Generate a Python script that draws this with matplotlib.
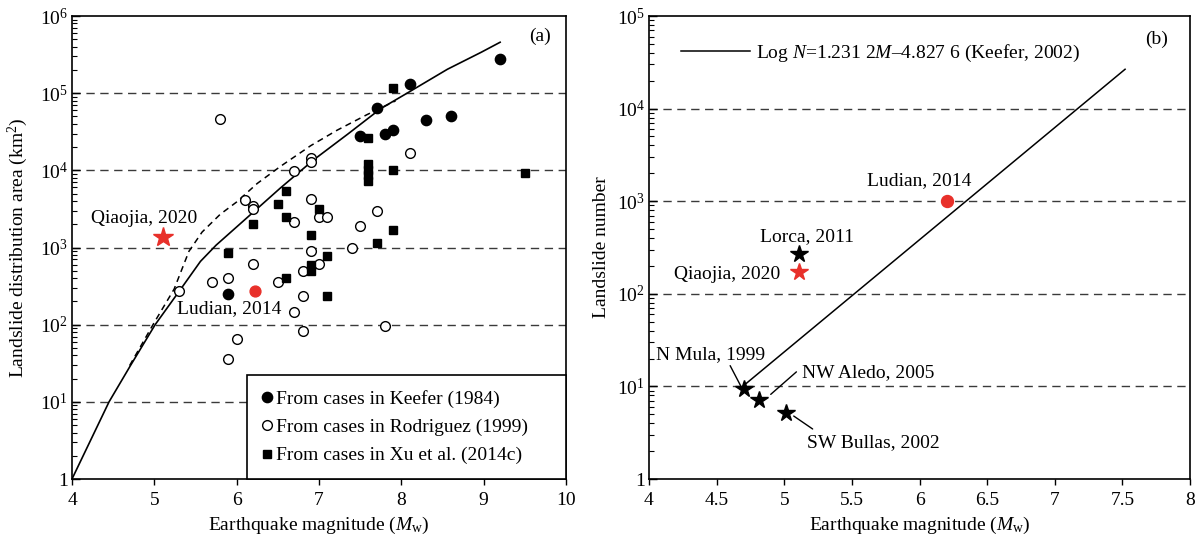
import numpy as np
import matplotlib.pyplot as plt
from matplotlib.ticker import FixedLocator, FixedFormatter, LogLocator, NullFormatter

plt.rcParams['font.family'] = ['Liberation Serif', 'DejaVu Serif']
plt.rcParams['mathtext.fontset'] = 'custom'
plt.rcParams['mathtext.rm'] = 'Liberation Serif'
plt.rcParams['mathtext.it'] = 'Liberation Serif:italic'
plt.rcParams['font.size'] = 14

RED = "#e8302a"
GRID = "#3a3a3a"

# ---- panel (a): landslide distribution area vs magnitude ----
keefer_m = [9.2, 8.1, 7.7, 8.3, 8.6, 7.5, 7.8, 7.9, 5.9]
keefer_a = [2.8e5, 1.3e5, 6.5e4, 4.5e4, 5.0e4, 2.8e4, 3.0e4, 3.3e4, 250]

rod_m = [5.8, 8.1, 6.9, 6.9, 6.7, 6.1, 6.2, 6.2, 6.9, 6.7, 7.0, 7.1, 7.7, 7.5,
         7.4, 6.9, 6.2, 5.9, 5.7, 5.3, 6.5, 6.8, 7.0, 6.8, 6.7, 6.8, 7.8, 6.0, 5.9]
rod_a = [4.6e4, 1.7e4, 1.45e4, 1.3e4, 9.8e3, 4.1e3, 3.5e3, 3.2e3, 4.2e3, 2.15e3,
         2.45e3, 2.45e3, 3.0e3, 1.9e3, 980, 910, 610, 405, 360, 270, 360, 490,
         610, 237, 145, 83, 97, 65, 36]

xu_m = [7.9, 7.6, 7.6, 7.6, 7.6, 7.6, 7.9, 9.5, 6.6, 6.5, 6.6, 6.2, 7.0, 6.9,
        7.9, 7.7, 5.9, 7.1, 6.9, 6.9, 6.6, 7.1]
xu_a = [1.15e5, 2.65e4, 1.2e4, 1.0e4, 8.7e3, 7.3e3, 1.0e4, 9.3e3, 5.4e3, 3.65e3,
        2.45e3, 2.0e3, 3.15e3, 1.45e3, 1.7e3, 1.15e3, 840, 780, 590, 500, 400, 235]

# upper-bound curves (log10 area)
solid_m = [4.0, 4.45, 4.71, 5.01, 5.32, 5.56, 5.75, 6.13, 6.53, 6.94, 7.35, 7.75,
           8.07, 8.56, 8.97, 9.2]
solid_log = [0.0, 1.0, 1.47, 2.0, 2.46, 2.82, 3.03, 3.39, 3.77, 4.14, 4.47, 4.8,
             5.0, 5.31, 5.53, 5.66]
dash_m = [4.70, 5.0, 5.24, 5.42, 5.58, 5.8, 6.0, 6.25, 6.53, 6.9, 7.22, 7.58, 7.93]
dash_log = [1.47, 2.03, 2.46, 2.95, 3.2, 3.43, 3.59, 3.83, 4.05, 4.32, 4.52, 4.72, 4.9]

qiaojia_a = (5.1, 1370)
ludian_a = (6.22, 275)

# ---- panel (b): landslide number vs magnitude ----
spain_names = ["Lorca, 2011", "N Mula, 1999", "NW Aledo, 2005", "SW Bullas, 2002"]
spain_m = [5.11, 4.7, 4.81, 5.01]
spain_n = [266, 9.3, 7.1, 5.2]
qiaojia_b = (5.11, 170)
ludian_b = (6.2, 1000)
keefer_line_m = [4.71, 7.52]
keefer_line_n = [10.5, 26600]


def style_axes(ax):
    for s in ax.spines.values():
        s.set_linewidth(1.2)
        s.set_color("black")
    ax.tick_params(axis="y", which="both", direction="in", left=True, right=False,
                   pad=3, labelsize=14)
    ax.tick_params(axis="y", which="major", length=6, width=1)
    ax.tick_params(axis="y", which="minor", length=3.5, width=0.8)
    ax.tick_params(axis="x", which="major", direction="out", length=4.5, width=1,
                   pad=5, labelsize=14)
    ax.tick_params(axis="x", which="minor", bottom=False)
    ax.yaxis.set_minor_locator(LogLocator(base=10, subs=np.arange(2, 10)))
    ax.yaxis.set_minor_formatter(NullFormatter())


fig = plt.figure(figsize=(11.95, 5.42), dpi=100)
ax1 = fig.add_axes([72 / 1195, 63 / 542, 494 / 1195, 463 / 542])
ax2 = fig.add_axes([649 / 1195, 63 / 542, 541 / 1195, 463 / 542])

# ---------- (a)
ax1.set_yscale("log")
ax1.set_xlim(4, 10)
ax1.set_ylim(1, 1e6)
for k in range(1, 6):
    ax1.axhline(10.0 ** k, color=GRID, ls=(0, (6, 4)), lw=1, zorder=1)
ax1.plot(solid_m, 10.0 ** np.array(solid_log), color="black", lw=1.2, zorder=2)
ax1.plot(dash_m, 10.0 ** np.array(dash_log), color="black", lw=1.1,
         ls=(0, (4, 3)), zorder=2)
h1, = ax1.plot(keefer_m, keefer_a, ls="", marker="o", ms=7.4, color="black", zorder=4)
h2, = ax1.plot(rod_m, rod_a, ls="", marker="o", ms=7, mfc="white", mec="black",
               mew=1.0, zorder=3)
h3, = ax1.plot(xu_m, xu_a, ls="", marker="s", ms=5.4, color="black", zorder=4)
ax1.plot(*qiaojia_a, ls="", marker="*", ms=15, color=RED, zorder=5)
ax1.plot(*ludian_a, ls="", marker="o", ms=7.8, color=RED, zorder=5)
ax1.text(4.88, 10 ** 3.38, "Qiaojia, 2020", ha="center", va="center", fontsize=14)
ax1.text(5.91, 10 ** 2.21, "Ludian, 2014", ha="center", va="center", fontsize=14)
ax1.text(0.948, 0.955, "(a)", transform=ax1.transAxes, ha="center", va="center",
         fontsize=14)

style_axes(ax1)
ax1.xaxis.set_major_locator(FixedLocator([4, 5, 6, 7, 8, 9, 10]))
ax1.xaxis.set_major_formatter(FixedFormatter(["4", "5", "6", "7", "8", "9", "10"]))
ax1.yaxis.set_major_locator(FixedLocator([10.0 ** k for k in range(7)]))
ax1.yaxis.set_major_formatter(FixedFormatter(
    ["1"] + [r"$10^{%d}$" % k for k in range(1, 7)]))
ax1.set_xlabel(r"Earthquake magnitude ($M_{\mathrm{w}}$)", fontsize=14, labelpad=4)
ax1.set_ylabel(r"Landslide distribution area (km$^{2}$)", fontsize=14)
ax1.yaxis.set_label_coords(-0.085, 0.5)

leg = ax1.legend([h1, h2, h3],
                 ["From cases in Keefer (1984)", "From cases in Rodriguez (1999)",
                  "From cases in Xu et al. (2014c)"],
                 loc="lower left", bbox_to_anchor=(0.354, 0.0, 0.646, 0.229),
                 mode="expand", borderaxespad=0, fancybox=False, edgecolor="black",
                 framealpha=1, handlelength=0.6, handletextpad=0.15, borderpad=0.75,
                 labelspacing=0.55, fontsize=14)
leg.get_frame().set_linewidth(1.2)
leg.set_zorder(6)

# ---------- (b)
ax2.set_yscale("log")
ax2.set_xlim(4, 8)
ax2.set_ylim(1, 1e5)
for k in range(1, 5):
    ax2.axhline(10.0 ** k, color=GRID, ls=(0, (6, 4)), lw=1, zorder=1)
hl, = ax2.plot(keefer_line_m, keefer_line_n, color="black", lw=1.1, zorder=2)
ax2.plot(spain_m, spain_n, ls="", marker="*", ms=13, color="black", zorder=4)
ax2.plot(*qiaojia_b, ls="", marker="*", ms=13, color=RED, zorder=4)
ax2.plot(*ludian_b, ls="", marker="o", ms=8.6, color=RED, zorder=4)

ax2.text(6.0, 10 ** 3.22, "Ludian, 2014", ha="center", va="center", fontsize=14)
ax2.text(5.165, 10 ** 2.62, spain_names[0], ha="center", va="center", fontsize=14)
ax2.text(4.97, 10 ** 2.205, "Qiaojia, 2020", ha="right", va="center", fontsize=14)
ax2.text(4.05, 10 ** 1.347, spain_names[1], ha="left", va="center", fontsize=14)
ax2.text(5.13, 10 ** 1.15, spain_names[2], ha="left", va="center", fontsize=14)
ax2.text(5.165, 10 ** 0.39, spain_names[3], ha="left", va="center", fontsize=14)
lp = dict(arrowstyle="-", color="black", lw=1.0, shrinkA=0, shrinkB=0)
ax2.annotate("", xy=(4.68, 10 ** 1.0), xytext=(4.60, 10 ** 1.224), arrowprops=lp)
ax2.annotate("", xy=(4.90, 10 ** 0.914), xytext=(5.09, 10 ** 1.157), arrowprops=lp)
ax2.annotate("", xy=(5.07, 10 ** 0.68), xytext=(5.21, 10 ** 0.54), arrowprops=lp)
ax2.text(0.938, 0.95, "(b)", transform=ax2.transAxes, ha="center", va="center",
         fontsize=14)

style_axes(ax2)
bt = [4, 4.5, 5, 5.5, 6, 6.5, 7, 7.5, 8]
ax2.xaxis.set_major_locator(FixedLocator(bt))
ax2.xaxis.set_major_formatter(FixedFormatter([f"{t:g}" for t in bt]))
ax2.yaxis.set_major_locator(FixedLocator([10.0 ** k for k in range(6)]))
ax2.yaxis.set_major_formatter(FixedFormatter(
    ["1"] + [r"$10^{%d}$" % k for k in range(1, 6)]))
ax2.set_xlabel(r"Earthquake magnitude ($M_{\mathrm{w}}$)", fontsize=14, labelpad=4)
ax2.set_ylabel("Landslide number", fontsize=14)
ax2.yaxis.set_label_coords(-0.072, 0.5)
ax2.legend([hl], [r"Log $N$=1.231 2$M$–4.827 6 (Keefer, 2002)"], loc="center left",
           bbox_to_anchor=(0.059, 0.92), frameon=False, borderpad=0, borderaxespad=0,
           handlelength=3.55, handletextpad=0.3, fontsize=14)

fig.savefig("out.png", dpi=100)
